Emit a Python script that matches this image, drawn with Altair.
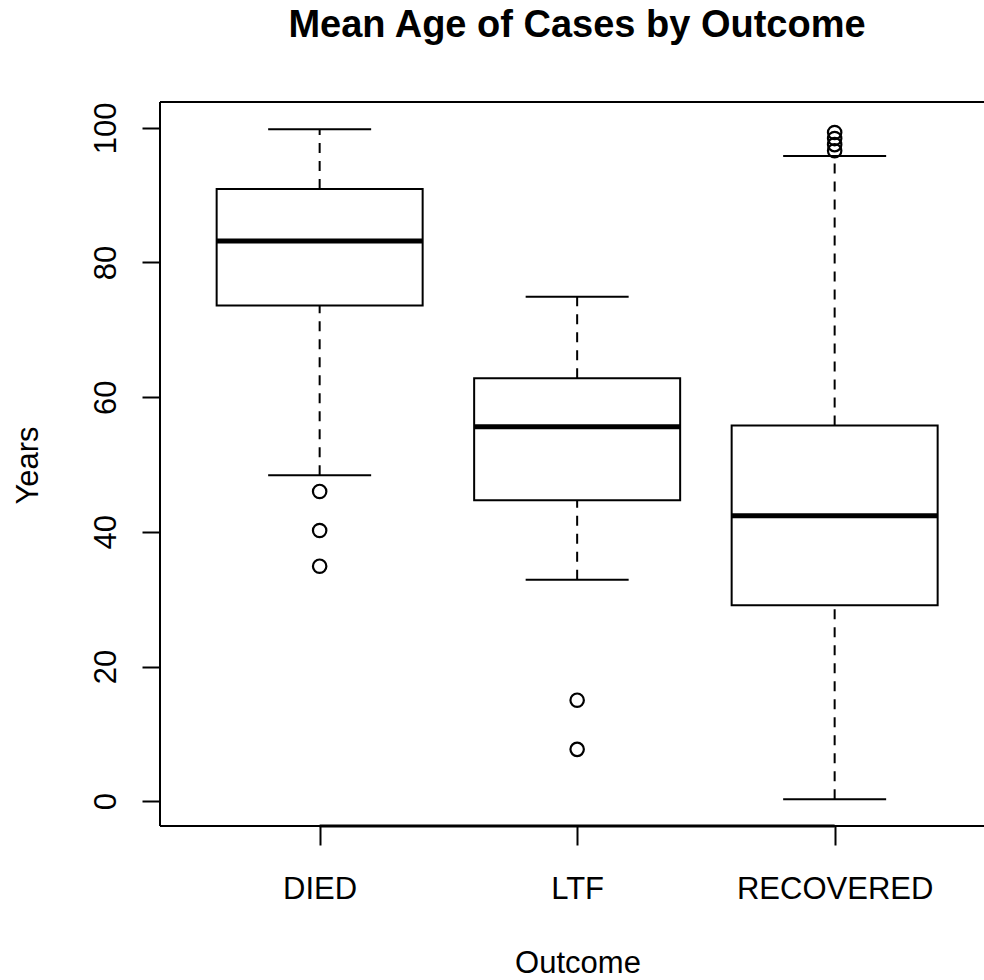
import altair as alt
import pandas as pd

# ---- data ----
categories = ["DIED", "LTF", "RECOVERED"]
positions = [1, 2, 3]
lower_whisker = [48.4, 32.9, 0.3]
q1 = [73.6, 44.7, 29.1]
median = [83.2, 55.6, 42.4]
q3 = [90.9, 62.8, 55.8]
upper_whisker = [99.8, 74.9, 95.8]

outlier_group = ["DIED", "DIED", "DIED", "LTF", "LTF",
                 "RECOVERED", "RECOVERED", "RECOVERED", "RECOVERED"]
outlier_values = [46.0, 40.2, 34.9, 15.0, 7.7, 99.3, 98.4, 97.5, 96.6]

y_ticks = [0, 20, 40, 60, 80, 100]

# ---- tables ----
stats = pd.DataFrame({
    "cat": categories, "pos": positions, "lo": lower_whisker, "q1": q1,
    "med": median, "q3": q3, "hi": upper_whisker,
})
pos_of = dict(zip(categories, positions))
outliers = pd.DataFrame({
    "cat": outlier_group,
    "pos": [pos_of[c] for c in outlier_group],
    "val": outlier_values,
})
axis_line = pd.DataFrame({"x1": [min(positions)], "x2": [max(positions)]})
dummy = pd.DataFrame({"a": [0]})

W, H = 824, 724
FONT = "Liberation Sans"

xscale = alt.Scale(domain=[0.38, 3.58], nice=False, zero=False)
yscale = alt.Scale(domain=[-3.68, 103.83], nice=False, zero=False)

label_expr = "[" + ",".join("'" + c + "'" for c in categories) + "][datum.value - 1]"

x_axis = alt.Axis(
    values=positions, labelExpr=label_expr, title="Outcome",
    labelAngle=0, labelBaseline="alphabetic", labelAlign="center",
    labelPadding=53, tickSize=19, tickWidth=2, tickColor="black",
    domain=False, grid=False, labelFont=FONT, labelFontSize=31,
    labelColor="black", labelFlush=False, labelOverlap=False, labelLimit=0,
    titleFont=FONT, titleFontSize=31, titleFontWeight="normal", titleColor="black",
    titleX=417.5, titleY=146, titleAlign="center", titleBaseline="alphabetic",
)
y_axis = alt.Axis(
    values=y_ticks, title="Years",
    labelAngle=270, labelAlign="center", labelBaseline="alphabetic",
    labelPadding=27, tickSize=18, tickWidth=2, tickColor="black",
    domain=False, grid=False, labelFont=FONT, labelFontSize=31,
    labelColor="black", labelFlush=False, labelOverlap=False, labelLimit=0,
    titleFont=FONT, titleFontSize=31, titleFontWeight="normal", titleColor="black",
    titleAngle=270, titleX=-123, titleY=363, titleAlign="center",
    titleBaseline="alphabetic",
)


def X(field):
    return alt.X(field, type="quantitative", scale=xscale, axis=x_axis)


def Y(field):
    return alt.Y(field, type="quantitative", scale=yscale, axis=y_axis)


base = alt.Chart(stats)

whisker_up = base.mark_rule(color="black", strokeWidth=2, strokeDash=[10, 8]).encode(
    x=X("pos"), y=Y("q3"), y2="hi")
whisker_lo = base.mark_rule(color="black", strokeWidth=2, strokeDash=[10, 8]).encode(
    x=X("pos"), y=Y("lo"), y2="q1")

caps = base.transform_calculate(
    cl="datum.pos - 0.2", cr="datum.pos + 0.2"
).transform_fold(["lo", "hi"], as_=["which", "v"])
cap_rules = caps.mark_rule(color="black", strokeWidth=2).encode(
    x=X("cl:Q"), x2="cr:Q", y=Y("v:Q"))

boxes = base.transform_calculate(
    bl="datum.pos - 0.4", br="datum.pos + 0.4"
).mark_rect(fill="white", stroke="black", strokeWidth=2).encode(
    x=X("bl:Q"), x2="br:Q", y=Y("q1"), y2="q3")

medians = base.transform_calculate(
    bl="datum.pos - 0.4", br="datum.pos + 0.4"
).mark_rule(color="black", strokeWidth=5).encode(
    x=X("bl:Q"), x2="br:Q", y=Y("med"))

points = alt.Chart(outliers).mark_point(
    shape="circle", filled=False, size=180, strokeWidth=2.2, color="black", opacity=1
).encode(x=X("pos"), y=Y("val"))

xline = alt.Chart(axis_line).mark_rule(color="black", strokeWidth=3).encode(
    x=X("x1"), x2="x2", y=alt.value(H))

frame_top = alt.Chart(dummy).mark_rule(color="black", strokeWidth=2).encode(
    x=alt.value(0), x2=alt.value(W), y=alt.value(0))
frame_left = alt.Chart(dummy).mark_rule(color="black", strokeWidth=2).encode(
    x=alt.value(0), y=alt.value(0), y2=alt.value(H))
frame_bottom = alt.Chart(dummy).mark_rule(color="black", strokeWidth=2).encode(
    x=alt.value(0), x2=alt.value(W), y=alt.value(H))

chart = alt.layer(
    whisker_up, whisker_lo, cap_rules, boxes, medians, points,
    frame_top, frame_left, frame_bottom, xline,
).properties(
    width=W, height=H,
    title=alt.TitleParams(
        "Mean Age of Cases by Outcome", font=FONT, fontSize=38,
        fontWeight="bold", color="black", anchor="middle",
        baseline="alphabetic", offset=26, dx=5,
    ),
    autosize=alt.AutoSizeParams(type="none"),
    padding={"left": 160, "top": 102, "right": 0, "bottom": 154},
    background="white",
).configure_view(stroke=None).configure(font=FONT)

chart.save("out.html", embed_options={"renderer": "svg", "actions": False})
